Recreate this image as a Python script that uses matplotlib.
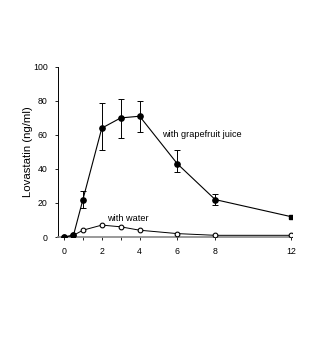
import matplotlib
matplotlib.use('Agg')
import matplotlib.pyplot as plt

plt.rcParams['font.family'] = ['Liberation Sans', 'DejaVu Sans']

time_h = [0, 0.5, 1, 2, 3, 4, 6, 8, 12]
juice = [0, 1, 22, 64, 70, 71, 43, 22, 12]
juice_lo = [0, 1, 17, 51, 58, 62, 38, 19, 12]
juice_hi = [0, 1, 27, 79, 81, 80, 51, 25, 12]
water = [0, 1, 4, 7, 6, 4, 2, 1, 1]

x_ticks = [0, 1, 2, 3, 4, 6, 8, 12]
x_labels = ['0', '', '2', '', '4', '6', '8', '12']
y_ticks = [0, 20, 40, 60, 80, 100]

fig = plt.figure(figsize=(3.22, 3.43), dpi=100)
ax = fig.add_axes([0.180, 0.309, 0.726, 0.496])

err_lo = [j - l for j, l in zip(juice, juice_lo)]
err_hi = [h - j for j, h in zip(juice, juice_hi)]

ax.plot(time_h, water, '-', color='black', lw=0.7, marker='o', ms=3.4,
        mfc='white', mec='black', mew=0.8, zorder=3)
ax.errorbar(time_h[2:-1], juice[2:-1], yerr=[err_lo[2:-1], err_hi[2:-1]], fmt='none',
            ecolor='black', elinewidth=0.7, capsize=2.5, capthick=0.7, zorder=2)
ax.plot(time_h[:-1], juice[:-1], '-', color='black', lw=0.8, marker='o', ms=3.8,
        mfc='black', mec='black', zorder=4)
ax.plot(time_h[-2:], juice[-2:], '-', color='black', lw=0.8, zorder=4)
ax.plot(time_h[-1:], juice[-1:], 's', color='black', ms=3.4, zorder=4)

ax.text(5.2, 60, 'with grapefruit juice', fontsize=6.6, va='center', ha='left')
ax.text(2.3, 10.8, 'with water', fontsize=6.6, va='center', ha='left')

ax.set_xlim(-0.32, 12.05)
ax.set_ylim(0, 100)
ax.set_xticks(x_ticks)
ax.set_xticklabels(x_labels)
ax.set_yticks(y_ticks)
ax.tick_params(labelsize=6.3, length=2.5, width=0.6, direction='out', pad=5)
ax.set_ylabel('Lovastatin (ng/ml)', fontsize=8.2, labelpad=0)

for s in ['top', 'right']:
    ax.spines[s].set_visible(False)
ax.spines['left'].set_linewidth(0.7)
ax.spines['bottom'].set_color('#888888')
ax.spines['bottom'].set_linewidth(1.2)
ax.spines['bottom'].set_bounds(-0.32, 12)

fig.savefig('out.png', dpi=100)
